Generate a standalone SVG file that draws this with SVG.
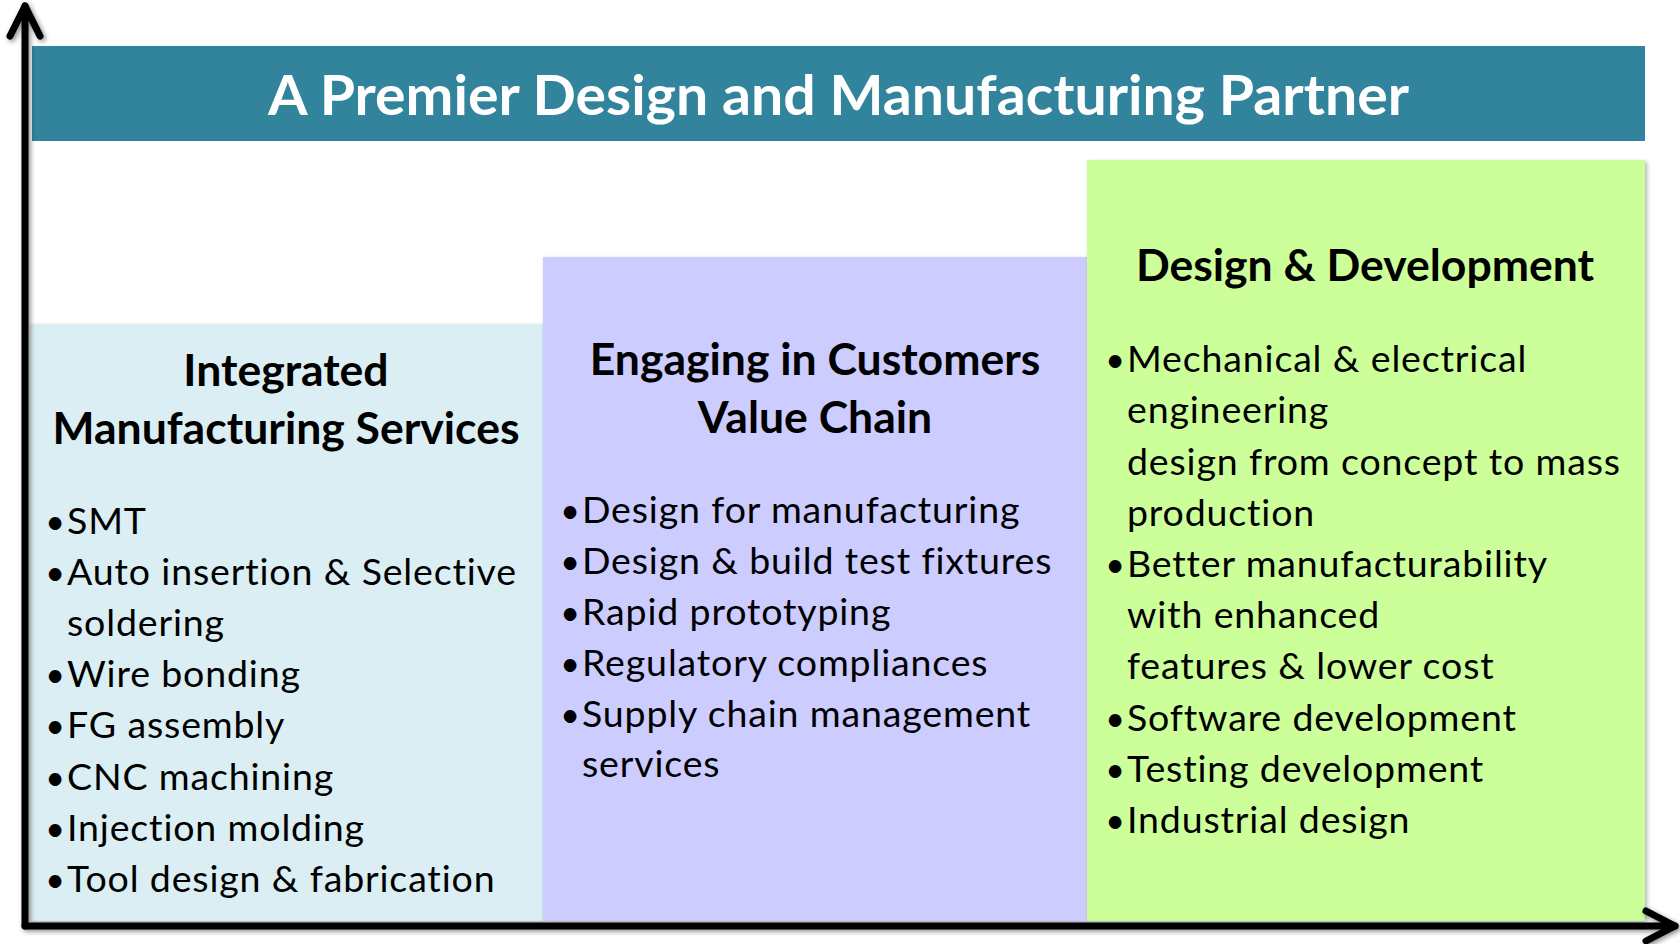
<svg xmlns="http://www.w3.org/2000/svg" width="1680" height="944" viewBox="0 0 1680 944">
  <defs>
    <filter id="shadow" x="-5%" y="-5%" width="110%" height="110%">
      <feDropShadow dx="2" dy="2" stdDeviation="2" flood-color="#000" flood-opacity="0.3"/>
    </filter>
    <filter id="axisShadow" x="-5%" y="-5%" width="110%" height="110%">
      <feDropShadow dx="2" dy="2" stdDeviation="2.5" flood-color="#000" flood-opacity="0.45"/>
    </filter>
  </defs>
  <style>
    .title { font-family: Lato, "Liberation Sans", sans-serif; font-weight: 700; font-size: 56px; fill: #ffffff; }
    .head { font-family: Lato, "Liberation Sans", sans-serif; font-weight: 700; font-size: 44.5px; fill: #000000; text-anchor: middle; }
    .item { font-family: Lato, "Liberation Sans", sans-serif; font-size: 37.5px; letter-spacing: 0.85px; fill: #000000; }
    .bullet { font-family: Lato, "Liberation Sans", sans-serif; font-size: 34px; fill: #000000; text-anchor: middle; }
    .axis { fill: none; stroke: #000000; stroke-width: 7; stroke-linecap: round; stroke-linejoin: round; }
  </style>
  <rect width="1680" height="944" fill="#ffffff"/>

  <!-- Banner across the top -->
  <g id="title">
    <rect x="32" y="46" width="1613" height="95" fill="#31849B"/>
    <text class="title" x="838.5" y="115" text-anchor="middle" textLength="1141" lengthAdjust="spacingAndGlyphs">A Premier Design and Manufacturing Partner</text>
  </g>

  <!-- Step 1: manufacturing services -->
  <g id="integrated-manufacturing">
    <rect x="30" y="324" width="513" height="597" fill="#DAEEF3" filter="url(#shadow)"/>
    <text class="head" x="286" y="386">Integrated</text>
    <text class="head" x="286" y="444">Manufacturing Services</text>
    <g>
      <text class="bullet" x="55" y="534">•</text><text class="item" x="67" y="534">SMT</text>
      <text class="bullet" x="55" y="585">•</text><text class="item" x="67" y="585">Auto insertion &amp; Selective</text>
      <text class="item" x="67" y="636">soldering</text>
      <text class="bullet" x="55" y="687">•</text><text class="item" x="67" y="687">Wire bonding</text>
      <text class="bullet" x="55" y="738">•</text><text class="item" x="67" y="738">FG assembly</text>
      <text class="bullet" x="55" y="790">•</text><text class="item" x="67" y="790">CNC machining</text>
      <text class="bullet" x="55" y="841">•</text><text class="item" x="67" y="841">Injection molding</text>
      <text class="bullet" x="55" y="892">•</text><text class="item" x="67" y="892">Tool design &amp; fabrication</text>
    </g>
  </g>

  <!-- Step 2: customer value chain -->
  <g id="customer-value-chain">
    <rect x="543" y="257" width="544" height="664" fill="#CCCCFF" filter="url(#shadow)"/>
    <text class="head" x="815" y="375">Engaging in Customers</text>
    <text class="head" x="815" y="433">Value Chain</text>
    <g>
      <text class="bullet" x="570" y="523">•</text><text class="item" x="582" y="523">Design for manufacturing</text>
      <text class="bullet" x="570" y="574">•</text><text class="item" x="582" y="574">Design &amp; build test fixtures</text>
      <text class="bullet" x="570" y="625">•</text><text class="item" x="582" y="625">Rapid prototyping</text>
      <text class="bullet" x="570" y="676">•</text><text class="item" x="582" y="676">Regulatory compliances</text>
      <text class="bullet" x="570" y="727">•</text><text class="item" x="582" y="727">Supply chain management</text>
      <text class="item" x="582" y="777">services</text>
    </g>
  </g>

  <!-- Step 3: design and development -->
  <g id="design-development">
    <rect x="1087" y="160" width="558" height="761" fill="#CCFF99" filter="url(#shadow)"/>
    <text class="head" x="1365" y="281">Design &amp; Development</text>
    <g>
      <text class="bullet" x="1115" y="372">•</text><text class="item" x="1127" y="372">Mechanical &amp; electrical</text>
      <text class="item" x="1127" y="423">engineering</text>
      <text class="item" x="1127" y="475">design from concept to mass</text>
      <text class="item" x="1127" y="526">production</text>
      <text class="bullet" x="1115" y="577">•</text><text class="item" x="1127" y="577">Better manufacturability</text>
      <text class="item" x="1127" y="628">with enhanced</text>
      <text class="item" x="1127" y="679">features &amp; lower cost</text>
      <text class="bullet" x="1115" y="731">•</text><text class="item" x="1127" y="731">Software development</text>
      <text class="bullet" x="1115" y="782">•</text><text class="item" x="1127" y="782">Testing development</text>
      <text class="bullet" x="1115" y="833">•</text><text class="item" x="1127" y="833">Industrial design</text>
    </g>
  </g>

  <!-- Axes -->
  <g id="connectors" filter="url(#axisShadow)">
    <path class="axis" d="M25 926 V6"/>
    <path class="axis" d="M10 36 L25 6 L40 36"/>
    <path class="axis" d="M25 926 H1675"/>
    <path class="axis" d="M1646 911 L1675 926 L1646 941"/>
  </g>
</svg>
